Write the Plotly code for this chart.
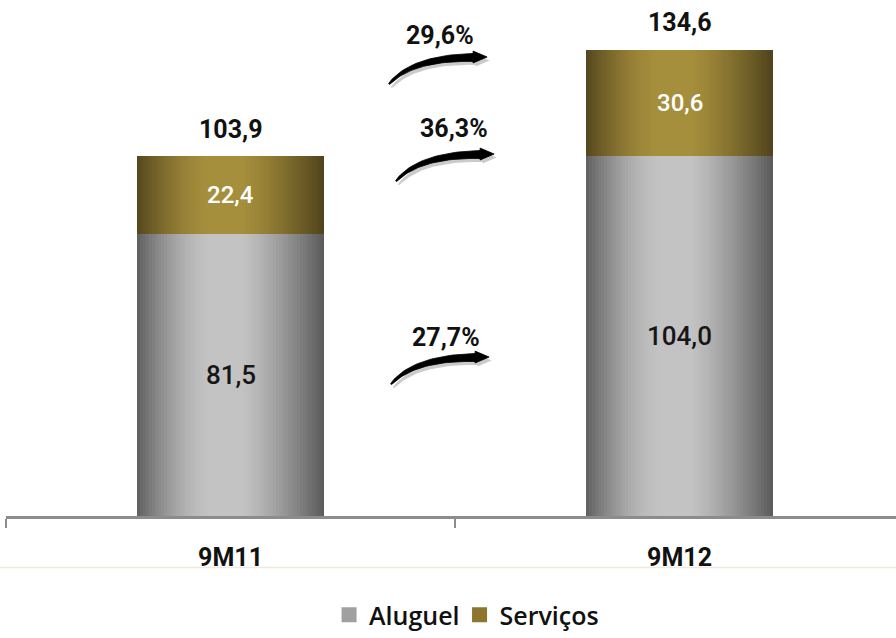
import plotly.graph_objects as go

categories = ["9M11", "9M12"]
aluguel = [81.5, 104.0]
servicos = [22.4, 30.6]
totals = [103.9, 134.6]
growth_labels = ["29,6%", "36,3%", "27,7%"]

def fmt(v):
    return f"{v:.1f}".replace(".", ",")

BAR_W = 0.415
N = 62

def lerp(a, b, t):
    return tuple(int(round(a[i] + (b[i] - a[i]) * t)) for i in range(3))

def profile(t):
    if t < 0.40:
        s = t / 0.40
        return 0.05 + 0.95 * (1 - (1 - s) ** 1.6)
    if t < 0.55:
        return 1.0
    s = (t - 0.55) / 0.45
    return 1 - s ** 1.3

gray_dark, gray_light = (90, 90, 90), (195, 195, 195)
gold_dark, gold_light = (80, 67, 28), (166, 143, 60)

fig = go.Figure()
for i in range(N):
    t = (i + 0.5) / N
    p = profile(t)
    cg = "rgb(%d,%d,%d)" % lerp(gray_dark, gray_light, p)
    cs = "rgb(%d,%d,%d)" % lerp(gold_dark, gold_light, p)
    off = -BAR_W / 2 + i * BAR_W / N
    w = BAR_W / N * 1.6 if i < N - 1 else BAR_W / N
    fig.add_trace(go.Bar(x=categories, y=aluguel, base=[0, 0], width=w, offset=off,
                         marker=dict(color=cg, line=dict(width=0)),
                         showlegend=False, hoverinfo="skip"))
    fig.add_trace(go.Bar(x=categories, y=servicos, base=aluguel, width=w, offset=off,
                         marker=dict(color=cs, line=dict(width=0)),
                         showlegend=False, hoverinfo="skip"))

# legend entries
fig.add_trace(go.Scatter(x=[None], y=[None], name="Aluguel", mode="markers", legend="legend",
                         marker=dict(symbol="square", size=15, color="rgb(160,160,160)",
                                     line=dict(width=0))))
fig.add_trace(go.Scatter(x=[None], y=[None], name="Serviços", mode="markers", legend="legend2",
                         marker=dict(symbol="square", size=15, color="rgb(140,118,45)",
                                     line=dict(width=0))))

# curved growth arrows (decoration), template in pixel offsets from tail
PXX = 1 / 448.0
PXY = 1 / 3.497
CAT_X = 230  # pixel of first category

def bez(p0, p1, p2, p3, t):
    u = 1 - t
    return (u**3 * p0[0] + 3 * u * u * t * p1[0] + 3 * u * t * t * p2[0] + t**3 * p3[0],
            u**3 * p0[1] + 3 * u * u * t * p1[1] + 3 * u * t * t * p2[1] + t**3 * p3[1])

P0, P1, P2, P3 = (0, 0), (16, -19), (46, -27), (84, -27)
steps = 30
center = [bez(P0, P1, P2, P3, k / steps) for k in range(steps + 1)]
upper, lower = [], []
for k, (cx, cy) in enumerate(center):
    a = center[max(k - 1, 0)]
    b = center[min(k + 1, steps)]
    dx, dy = b[0] - a[0], b[1] - a[1]
    ln = (dx * dx + dy * dy) ** 0.5
    nx, ny = -dy / ln, dx / ln
    hw = 0.6 + 3.4 * (k / steps) ** 0.7
    upper.append((cx + nx * hw, cy + ny * hw))
    lower.append((cx - nx * hw, cy - ny * hw))
head = [(84, -33.5), (98, -27.5), (84, -21.5)]
outline = upper + head + lower[::-1]

arrow_tails_px = [(388, 85), (395, 183), (390, 388)]
label_off_px = [(51, -49), (58, -53), (55, -47)]

for k in range(3):
    tx, ty = arrow_tails_px[k]
    def to_data(px, py, sx=0, sy=0):
        return ((tx + px + sx - CAT_X) * PXX, (521 - (ty + py + sy)) * PXY)
    sh = [to_data(px, py, 2.5, 3.5) for px, py in outline]
    fig.add_trace(go.Scatter(x=[p[0] for p in sh], y=[p[1] for p in sh], mode="lines",
                             fill="toself", fillcolor="rgba(160,160,160,0.55)",
                             line=dict(width=0), showlegend=False, hoverinfo="skip", xaxis="x2"))
    pts = [to_data(px, py) for px, py in outline]
    fig.add_trace(go.Scatter(x=[p[0] for p in pts], y=[p[1] for p in pts], mode="lines",
                             fill="toself", fillcolor="black",
                             line=dict(width=0.8, color="black"), showlegend=False, hoverinfo="skip",
                             xaxis="x2"))
    lx, ly = to_data(*label_off_px[k])
    fig.add_annotation(x=lx, y=ly, xref="x2", yref="y", text=growth_labels[k], showarrow=False,
                       font=dict(family="Roboto", size=25, color="#111", weight=700))

# value labels
for i, c in enumerate(categories):
    fig.add_annotation(x=c, y=aluguel[i] / 2, text=fmt(aluguel[i]), showarrow=False,
                       font=dict(family="Roboto", size=26, color="#161616", weight=500))
    fig.add_annotation(x=c, y=aluguel[i] + servicos[i] / 2, text=fmt(servicos[i]), showarrow=False,
                       font=dict(family="Roboto", size=24, color="white", weight=500))
    fig.add_annotation(x=c, y=totals[i], text=fmt(totals[i]), showarrow=False, yshift=27,
                       font=dict(family="Roboto", size=25, color="#111", weight=700))

fig.add_shape(type="line", xref="paper", yref="paper", x0=-0.01, x1=1.0, y0=-0.1, y1=-0.1,
              line=dict(color="#efe9df", width=1.5))

legend_font = dict(family="Open Sans", size=25, color="#111", weight=600)
fig.update_layout(
    width=896, height=638,
    margin=dict(l=6, r=0, t=0, b=117),
    barmode="overlay",
    plot_bgcolor="white", paper_bgcolor="white",
    bargap=0,
    xaxis=dict(type="category", range=[-0.5, 1.482],
               showline=True, linecolor="#8c8c8c", linewidth=3,
               ticks="outside", tickson="boundaries", ticklen=9, tickwidth=2, tickcolor="#8c8c8c",
               showgrid=False, zeroline=False, ticklabelstandoff=17,
               tickfont=dict(family="Roboto", size=25, color="#111", weight=700)),
    xaxis2=dict(range=[-0.5, 1.482], overlaying="x", visible=False, showgrid=False, zeroline=False),
    yaxis=dict(range=[0, 149], visible=False, showgrid=False, zeroline=False),
    legend=dict(orientation="h", x=0.363, xanchor="left", y=-0.192, yanchor="middle",
                font=legend_font, itemwidth=30),
    legend2=dict(orientation="h", x=0.5096, xanchor="left", y=-0.192, yanchor="middle",
                 font=legend_font, itemwidth=30),
)

fig.write_html("out.html")
